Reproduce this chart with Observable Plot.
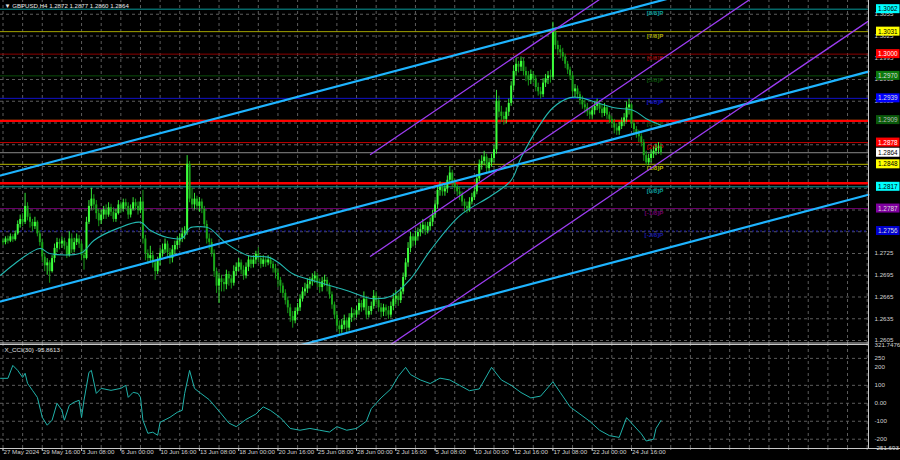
<!DOCTYPE html>
<html><head><meta charset="utf-8">
<script src="https://cdn.jsdelivr.net/npm/d3@7"></script>
<script src="https://cdn.jsdelivr.net/npm/@observablehq/plot@0.6"></script>
<style>
html,body{margin:0;padding:0;background:#000;}
#wrap{position:relative;width:900px;height:460px;overflow:hidden;background:#000;}
#wrap svg{position:absolute;left:0;display:block;}
</style></head><body><div id="wrap"></div>
<script>
// ---------------- DATA ----------------
const title = "\u25BC GBPUSD,H4 1.2872 1.2877 1.2860 1.2864";
const cciTitle = "X_CCI(30) -95.8613";
const firstOpen = 1.2742;
const barClose = [
1.2740,1.2745,1.2742,1.2748,1.2744,1.2752, 1.2765,1.2772,1.2768,1.2790,1.2775,1.2768,
1.2762,1.2768,1.2752,1.2740,1.2720,1.2708, 1.2712,1.2700,1.2718,1.2732,1.2740,1.2738,
1.2742,1.2735,1.2722,1.2745,1.2730,1.2740, 1.2745,1.2738,1.2722,1.2718,1.2768,1.2790,
1.2800,1.2792,1.2780,1.2770,1.2778,1.2785, 1.2778,1.2788,1.2782,1.2772,1.2780,1.2792,
1.2786,1.2795,1.2790,1.2778,1.2786,1.2795, 1.2790,1.2784,1.2796,1.2745,1.2725,1.2718,
1.2722,1.2712,1.2700,1.2715,1.2725,1.2730, 1.2738,1.2726,1.2718,1.2730,1.2736,1.2742,
1.2746,1.2752,1.2756,1.2848,1.2800,1.2792, 1.2800,1.2790,1.2796,1.2786,1.2765,1.2745,
1.2740,1.2725,1.2700,1.2680,1.2690,1.2685, 1.2682,1.2696,1.2690,1.2684,1.2700,1.2706,
1.2712,1.2702,1.2694,1.2706,1.2716,1.2710, 1.2716,1.2724,1.2718,1.2710,1.2716,1.2712,
1.2716,1.2710,1.2704,1.2698,1.2688,1.2680, 1.2670,1.2660,1.2650,1.2638,1.2632,1.2645,
1.2650,1.2662,1.2672,1.2676,1.2682,1.2686, 1.2690,1.2694,1.2684,1.2678,1.2686,1.2688,
1.2680,1.2668,1.2654,1.2640,1.2625,1.2620, 1.2626,1.2632,1.2622,1.2636,1.2642,1.2640,
1.2646,1.2656,1.2650,1.2662,1.2640,1.2645, 1.2652,1.2666,1.2660,1.2650,1.2644,1.2650,
1.2646,1.2640,1.2652,1.2662,1.2666,1.2660, 1.2672,1.2692,1.2712,1.2732,1.2748,1.2742,
1.2748,1.2754,1.2758,1.2764,1.2756,1.2762, 1.2768,1.2778,1.2792,1.2812,1.2816,1.2810,
1.2814,1.2826,1.2836,1.2822,1.2816,1.2810, 1.2806,1.2796,1.2790,1.2786,1.2796,1.2802,
1.2810,1.2828,1.2848,1.2852,1.2858,1.2842, 1.2850,1.2856,1.2868,1.2935,1.2920,1.2914,
1.2910,1.2920,1.2932,1.2956,1.2976,1.2986, 1.2982,1.2990,1.2976,1.2970,1.2964,1.2972,
1.2966,1.2954,1.2948,1.2944,1.2960,1.2966, 1.2970,1.2968,1.3030,1.3012,1.3006,1.3002,
1.2996,1.2986,1.2978,1.2970,1.2948,1.2952, 1.2944,1.2936,1.2930,1.2926,1.2920,1.2916,
1.2922,1.2928,1.2932,1.2924,1.2918,1.2926, 1.2916,1.2910,1.2904,1.2898,1.2894,1.2900,
1.2906,1.2912,1.2926,1.2930,1.2904,1.2896, 1.2890,1.2886,1.2878,1.2860,1.2850,1.2856,
1.2862,1.2866,1.2870,1.2872,1.2864];
const barHigh = [
1.2746,1.2748,1.2749,1.2752,1.2751,1.2756, 1.2770,1.2778,1.2780,1.2808,1.2795,1.2780,
1.2772,1.2775,1.2770,1.2756,1.2745,1.2725, 1.2718,1.2715,1.2722,1.2738,1.2746,1.2745,
1.2748,1.2746,1.2740,1.2755,1.2752,1.2746, 1.2752,1.2750,1.2742,1.2730,1.2775,1.2798,
1.2815,1.2806,1.2798,1.2786,1.2785,1.2790, 1.2792,1.2795,1.2793,1.2788,1.2786,1.2798,
1.2796,1.2800,1.2800,1.2795,1.2792,1.2802, 1.2800,1.2796,1.2802,1.2812,1.2750,1.2730,
1.2735,1.2728,1.2716,1.2720,1.2732,1.2738, 1.2745,1.2742,1.2732,1.2736,1.2742,1.2748,
1.2752,1.2760,1.2762,1.2860,1.2852,1.2815, 1.2808,1.2804,1.2802,1.2800,1.2790,1.2770,
1.2752,1.2745,1.2730,1.2705,1.2698,1.2695, 1.2690,1.2702,1.2700,1.2695,1.2708,1.2712,
1.2718,1.2716,1.2708,1.2712,1.2722,1.2720, 1.2722,1.2728,1.2733,1.2722,1.2722,1.2720,
1.2722,1.2720,1.2714,1.2710,1.2704,1.2692, 1.2684,1.2675,1.2665,1.2655,1.2645,1.2650,
1.2656,1.2668,1.2678,1.2684,1.2690,1.2692, 1.2697,1.2700,1.2698,1.2690,1.2692,1.2695,
1.2692,1.2684,1.2672,1.2658,1.2645,1.2632, 1.2634,1.2640,1.2636,1.2642,1.2650,1.2648,
1.2652,1.2662,1.2660,1.2672,1.2666,1.2652, 1.2658,1.2674,1.2672,1.2665,1.2656,1.2655,
1.2654,1.2652,1.2658,1.2670,1.2674,1.2670, 1.2678,1.2698,1.2718,1.2740,1.2754,1.2752,
1.2756,1.2760,1.2766,1.2772,1.2768,1.2768, 1.2774,1.2784,1.2798,1.2818,1.2824,1.2822,
1.2820,1.2832,1.2845,1.2840,1.2828,1.2820, 1.2816,1.2810,1.2800,1.2796,1.2802,1.2808,
1.2816,1.2834,1.2854,1.2860,1.2866,1.2862, 1.2856,1.2862,1.2874,1.2950,1.2942,1.2928,
1.2920,1.2926,1.2938,1.2962,1.2984,1.2994, 1.2990,1.2996,1.2994,1.2982,1.2976,1.2978,
1.2976,1.2970,1.2960,1.2954,1.2966,1.2972, 1.2976,1.2978,1.3044,1.3036,1.3018,1.3012,
1.3008,1.3000,1.2990,1.2982,1.2974,1.2958, 1.2956,1.2948,1.2942,1.2936,1.2932,1.2926,
1.2928,1.2934,1.2938,1.2936,1.2930,1.2932, 1.2928,1.2920,1.2914,1.2910,1.2904,1.2906,
1.2912,1.2918,1.2934,1.2938,1.2932,1.2908, 1.2900,1.2895,1.2890,1.2882,1.2866,1.2862,
1.2868,1.2872,1.2876,1.2878,1.2877];
const barLow = [
1.2736,1.2737,1.2738,1.2740,1.2740,1.2742, 1.2750,1.2760,1.2762,1.2765,1.2770,1.2760,
1.2755,1.2758,1.2748,1.2735,1.2712,1.2700, 1.2695,1.2684,1.2698,1.2712,1.2726,1.2730,
1.2732,1.2730,1.2718,1.2720,1.2725,1.2726, 1.2736,1.2732,1.2715,1.2702,1.2716,1.2765,
1.2785,1.2784,1.2772,1.2762,1.2765,1.2772, 1.2772,1.2775,1.2776,1.2768,1.2768,1.2778,
1.2780,1.2782,1.2785,1.2772,1.2774,1.2784, 1.2784,1.2778,1.2780,1.2738,1.2715,1.2710,
1.2712,1.2705,1.2688,1.2696,1.2708,1.2720, 1.2725,1.2720,1.2710,1.2712,1.2724,1.2730,
1.2736,1.2740,1.2744,1.2750,1.2795,1.2786, 1.2785,1.2784,1.2782,1.2780,1.2760,1.2738,
1.2730,1.2720,1.2692,1.2670,1.2656,1.2672, 1.2672,1.2675,1.2680,1.2676,1.2680,1.2694,
1.2700,1.2696,1.2688,1.2690,1.2700,1.2704, 1.2705,1.2710,1.2712,1.2704,1.2706,1.2706,
1.2708,1.2704,1.2698,1.2690,1.2678,1.2670, 1.2664,1.2654,1.2642,1.2630,1.2622,1.2628,
1.2640,1.2645,1.2658,1.2666,1.2670,1.2676, 1.2680,1.2684,1.2678,1.2670,1.2672,1.2680,
1.2672,1.2662,1.2648,1.2634,1.2618,1.2613, 1.2615,1.2620,1.2616,1.2618,1.2630,1.2632,
1.2636,1.2640,1.2644,1.2646,1.2634,1.2636, 1.2640,1.2648,1.2654,1.2644,1.2636,1.2638,
1.2638,1.2634,1.2636,1.2646,1.2654,1.2652, 1.2656,1.2668,1.2688,1.2706,1.2726,1.2734,
1.2736,1.2742,1.2748,1.2752,1.2750,1.2752, 1.2756,1.2762,1.2774,1.2786,1.2804,1.2804,
1.2804,1.2808,1.2820,1.2816,1.2810,1.2804, 1.2798,1.2790,1.2782,1.2780,1.2782,1.2792,
1.2798,1.2806,1.2824,1.2840,1.2846,1.2836, 1.2838,1.2844,1.2850,1.2862,1.2912,1.2906,
1.2902,1.2904,1.2914,1.2928,1.2950,1.2970, 1.2974,1.2976,1.2970,1.2962,1.2956,1.2958,
1.2960,1.2948,1.2942,1.2938,1.2940,1.2954, 1.2958,1.2960,1.2964,1.3006,1.2998,1.2994,
1.2990,1.2980,1.2972,1.2964,1.2942,1.2940, 1.2938,1.2930,1.2924,1.2918,1.2914,1.2910,
1.2910,1.2916,1.2922,1.2918,1.2912,1.2914, 1.2910,1.2904,1.2898,1.2890,1.2888,1.2888,
1.2896,1.2900,1.2906,1.2916,1.2898,1.2888, 1.2884,1.2878,1.2872,1.2852,1.2846,1.2846,
1.2850,1.2856,1.2860,1.2862,1.2860];

// moving average
const maBar   = [-1,15,19,32,37,47,56,60,67,73,76,80,84,91,100,108,112,118,129,140,150,158,166,174,186,199,207,211,218,224,231,235,242,249,257,262,268];
const maPrice = [1.2695,1.2732,1.2725,1.2726,1.2743,1.2760,1.2768,1.2757,1.2747,1.2746,1.2760,1.2762,1.2760,1.2739,1.2722,1.2720,1.2713,1.2697,1.2685,1.2674,1.2663,1.2666,1.2690,1.2729,1.2777,1.2805,1.2826,1.2857,1.2899,1.2926,1.2940,1.2940,1.2933,1.2926,1.2922,1.2911,1.2902];

// CCI(30)
const cciBar = [-1,2,4,6,8,9,10,12,14,16,18,20,22,24,25,27,29,31,32,33,35,36,38,40,44,48,50,51,53,55,56,57,59,61,63,64,68,71,73,74,76,78,80,84,89,92,95,99,103,106,109,113,117,121,125,129,133,136,140,144,148,150,154,158,161,164,166,170,174,178,182,186,190,194,199,203,207,211,215,219,224,227,231,235,239,243,247,251,254,256,260,262,265,266,268];
const cciVal = [139,139,211,183,144,167,111,72,33,-78,-122,-94,0,-39,-94,-11,6,17,-78,17,172,183,55,83,72,83,100,33,61,55,33,-94,-167,-161,-178,-106,-78,-50,-39,55,183,83,61,20,-60,-110,-130,-90,-60,-20,-40,-80,-140,-150,-140,-150,-160,-130,-150,-140,-100,-30,30,80,150,200,160,130,110,140,130,100,70,80,200,130,100,60,30,40,120,60,-20,-60,-100,-150,-180,-190,-80,-110,-170,-210,-200,-140,-96];

// Murrey math levels
const murreyName  = ["[8/8]P","[7/8]P","[6/8]P","[5/8]P","[4/8]P","[3/8]P","[2/8]P","[1/8]P","[0/8]P","[-1/8]P","[-2/8]P"];
const murreyValue = [1.3062,1.3031,1.3000,1.2970,1.2939,1.2909,1.2878,1.2848,1.2817,1.2787,1.2756];
const murreyLine  = ["#0a9a9a","#a3a300","#8c0000","#0b4f0b","#1010c8","#0b4f0b","#c00000","#b8b800","#0a9a9a","#6e006e","#1a1aa8"];
const murreyBox   = ["#00ffff","#ffff00","#ff0000","#0d7a0d","#0000ff","#0a5a0a","#ff0000","#ffff00","#00ffff","#8000a0","#0000d0"];
const murreyInk   = ["#000","#000","#fff","#ddd","#ddd","#bbb","#fff","#000","#000","#ddd","#ddd"];

const srLevels = [1.2908, 1.2822];       // thick red lines
const lastPrice = 1.2864;

// trend channel (cyan) endpoints: bar, price
const cyanBar1 = [-1, -1, 120];  const cyanP1 = [1.28326, 1.26588, 1.25975];
const cyanBar2 = [352.5, 352.5, 352.5]; const cyanP2 = [1.31497, 1.29759, 1.28060];
// regression channel (purple)
const purBar1 = [149.7,149.7,149.7]; const purP1 = [1.28616,1.27212,1.25806];
const purBar2 = [352.5,352.5,352.5]; const purP2 = [1.33264,1.31861,1.30455];

// axes (price ticks that are not covered by a level box)
const priceTicks = [1.2605,1.2635,1.2665,1.2695,1.2725,1.2755,1.2785,1.2815,1.2845,1.2875,1.2905,1.2935,1.2965,1.2995,1.3025,1.3055];
const priceTickShown = [1.2605,1.2635,1.2665,1.2695,1.2725,1.2935,1.2965,1.2995,1.3025,1.3055];
const xTickBar = [0,16,32,48,64,80,96,112,128,144,160,176,192,208,224,240,256];
const xTickLabel = ["27 May 2024","29 May 16:00","3 Jun 08:00","6 Jun 00:00","10 Jun 16:00","13 Jun 08:00","18 Jun 00:00","20 Jun 16:00","25 Jun 08:00","28 Jun 00:00","2 Jul 16:00","5 Jul 08:00","10 Jul 00:00","12 Jul 16:00","17 Jul 08:00","22 Jul 00:00","24 Jul 16:00"];
const cciTickVal = [321.7476,250,200,100,0,-100,-200,-251.693];
const cciTickLabel = ["321.7476","250","200","100","0.00","-100","-200","-251.693"];
const cciGrid = [250,100,0,-100,-200];

// ---------------- LAYOUT ----------------
const FONT = "'Liberation Sans', Arial, sans-serif";
const GRID = "#5c5c5c";
const AXIS = "#c8c8c8";
const TXT = "#d0d0d0";
const W = 900, AXIS_PX = 868, X0 = 2.5, BAR = 2.455;
const ix = px => (px - X0) / BAR;
const xScale = {type: "linear", domain: [ix(0), ix(W)], range: [0, W], axis: null};
const iL = ix(0), iA = ix(AXIS_PX), iLab = ix(874), iBox1 = ix(876), iBox2 = ix(899.5);
const gridBars = d3.range(0, 353, 8);

const mainH = 344, PPX = 7250;
const pTop = 1.2605 + 340 / PPX, pBot = 1.2605 - 4 / PPX;
const halfBox = 4.5 / PPX;

const bars = barClose.map((c, i) => ({i, o: i ? barClose[i - 1] : firstOpen, h: barHigh[i], l: barLow[i], c}));
bars.forEach(d => { d.up = d.c >= d.o; d.c2 = Math.abs(d.c - d.o) < 0.00008 ? d.o + 0.00008 : d.c; });
const murrey = murreyName.map((n, k) => ({n, v: murreyValue[k], line: murreyLine[k], box: murreyBox[k], ink: murreyInk[k], k}));
const boxes = murrey.map(d => ({v: d.v, box: d.box, ink: d.ink}));
boxes.push({v: lastPrice, box: "#ffffff", ink: "#000"});
const ma = maBar.map((b, k) => ({b, p: maPrice[k]}));
const cyan = cyanBar1.flatMap((b, k) => [{k, b, p: cyanP1[k]}, {k, b: cyanBar2[k], p: cyanP2[k]}]);
const pur = purBar1.flatMap((b, k) => [{k, b, p: purP1[k]}, {k, b: purBar2[k], p: purP2[k]}]);
const cci = cciBar.map((b, k) => ({b, v: cciVal[k]}));
const fmt = d3.format(".4f");

const UP = "#3cff3c", DOWN = "#1aa81a";

const main = Plot.plot({
  width: W, height: mainH, margin: 0,
  x: xScale,
  y: {type: "linear", domain: [pBot, pTop], range: [mainH, 0], axis: null},
  color: {type: "identity"},
  style: {background: "#000", color: TXT, fontFamily: FONT, fontSize: "6px", overflow: "visible"},
  marks: [
    Plot.ruleY(priceTicks, {x1: iL, x2: iA, stroke: GRID, strokeDasharray: "3,3"}),
    Plot.ruleX(gridBars, {y1: pBot, y2: pTop, stroke: GRID, strokeDasharray: "3,3"}),
    Plot.ruleY(murrey.filter(d => d.k < 10), {y: "v", x1: iL, x2: iA, stroke: "line", strokeWidth: 1}),
    Plot.ruleY(murrey.filter(d => d.k === 10), {y: "v", x1: iL, x2: iA, stroke: "line", strokeWidth: 1, strokeDasharray: "2,2"}),
    Plot.ruleY([lastPrice], {x1: iL, x2: iA, stroke: "#8a8a8a", strokeWidth: 1}),
    Plot.ruleY(srLevels, {x1: iL, x2: iA, stroke: "#ff0000", strokeWidth: 2.4}),
    Plot.text(murrey, {x: ix(663), y: "v", text: "n", fill: "line", textAnchor: "end", dy: 4, fontSize: 6.2, fontWeight: "bold"}),
    Plot.ruleX(bars, {x: "i", y1: "l", y2: "h", stroke: d => d.up ? UP : DOWN, strokeWidth: 0.9}),
    Plot.ruleX(bars, {x: "i", y1: "o", y2: "c2", stroke: d => d.up ? UP : DOWN, strokeWidth: 2}),
    Plot.line(ma, {x: "b", y: "p", stroke: "#23b8b0", strokeWidth: 1.1, curve: "catmull-rom"}),
    Plot.line(cyan, {x: "b", y: "p", z: "k", stroke: "#1eb4ff", strokeWidth: 2.2, clip: true}),
    Plot.line(pur, {x: "b", y: "p", z: "k", stroke: "#9b3cf0", strokeWidth: 1.3, clip: true}),
    Plot.ruleX([iA], {y1: pBot, y2: pTop, stroke: AXIS, strokeWidth: 1}),
    Plot.ruleY([pBot + 1.5 / PPX], {x1: iL, x2: iA, stroke: AXIS, strokeWidth: 1}),
    Plot.text(priceTickShown, {x: iLab, y: d => d, text: d => fmt(d), textAnchor: "start", fill: TXT, fontSize: 6.2}),
    Plot.rect(boxes, {x1: iBox1, x2: iBox2, y1: d => d.v - halfBox, y2: d => d.v + halfBox, fill: "box"}),
    Plot.text(boxes, {x: ix(877.5), y: "v", text: d => fmt(d.v), fill: "ink", textAnchor: "start", fontSize: 6.4}),
    Plot.text([title], {frameAnchor: "top-left", dx: 4, dy: 3, lineAnchor: "top", fill: "#e8e8e8", fontSize: 6.1})
  ]
});
main.style.top = "0px";

const cciH = 116;
const cMin = -251.693, cMax = 321.7476;
const cpp = (cMax - cMin) / 103; // value per pixel
const cci_plot = Plot.plot({
  width: W, height: cciH, margin: 0,
  x: xScale,
  y: {type: "linear", domain: [cMin, cMax], range: [104, 1], axis: null},
  style: {background: "#000", color: TXT, fontFamily: FONT, fontSize: "6px", overflow: "visible"},
  marks: [
    Plot.ruleY(cciGrid, {x1: iL, x2: iA, stroke: GRID, strokeDasharray: "3,3"}),
    Plot.ruleX(gridBars, {y1: cMin, y2: cMax, stroke: GRID, strokeDasharray: "3,3"}),
    Plot.ruleY([cMax + cpp], {x1: iL, x2: iA, stroke: AXIS, strokeWidth: 1}),
    Plot.line(cci, {x: "b", y: "v", stroke: "#20b2aa", strokeWidth: 1}),
    Plot.ruleX([iA], {y1: cMin, y2: cMax + cpp, stroke: AXIS, strokeWidth: 1}),
    Plot.ruleY([cMin], {x1: iL, x2: ix(W), stroke: AXIS, strokeWidth: 1}),
    Plot.ruleX(xTickBar, {y1: cMin, y2: cMin - 3 * cpp, stroke: AXIS, strokeWidth: 1}),
    Plot.ruleX(gridBars, {y1: cMin, y2: cMin - 1.5 * cpp, stroke: AXIS, strokeWidth: 1}),
    Plot.text(xTickBar, {x: d => d, frameAnchor: "bottom", dy: -7, text: (d, k) => xTickLabel[k], textAnchor: "start", dx: 0.5, fill: TXT, fontSize: 6.2}),
    Plot.text(cciTickVal, {x: iLab, y: d => d, text: (d, k) => cciTickLabel[k], textAnchor: "start", fill: TXT, fontSize: 6.2}),
    Plot.text([cciTitle], {frameAnchor: "top-left", dx: 4, dy: 3, lineAnchor: "top", fill: "#e0e0e0", fontSize: 6.2})
  ]
});
cci_plot.style.top = mainH + "px";

const wrap = document.getElementById("wrap");
wrap.appendChild(main);
wrap.appendChild(cci_plot);
</script></body></html>
